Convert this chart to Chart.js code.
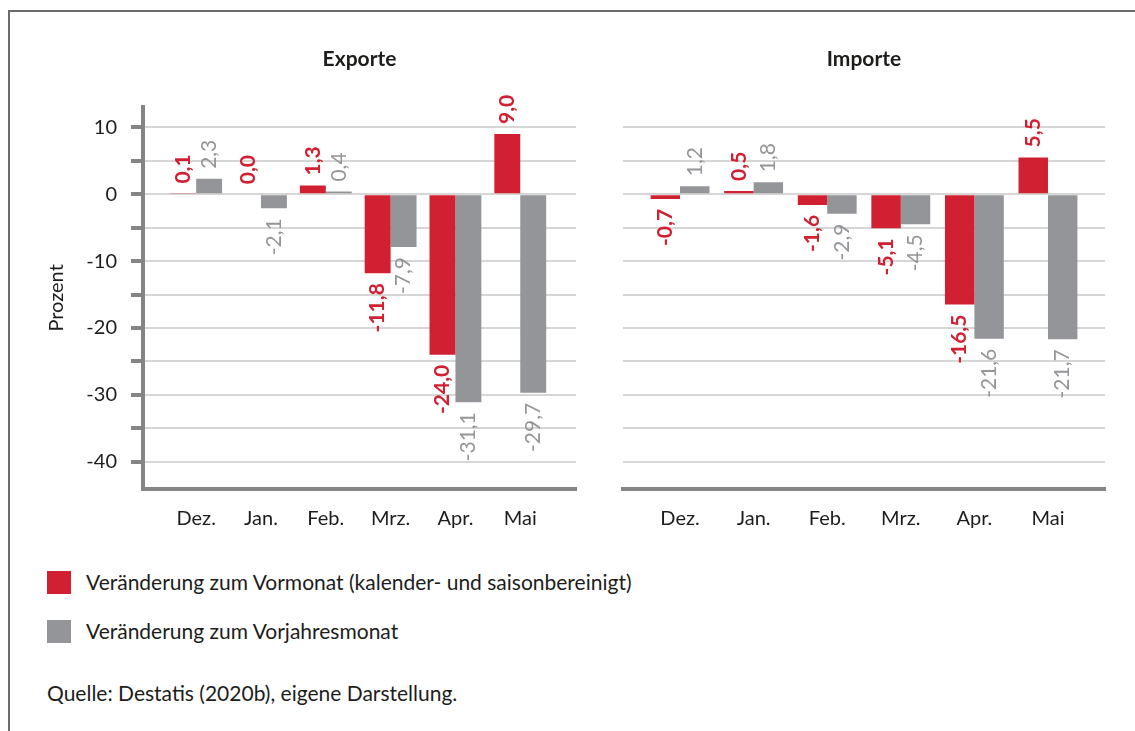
<!DOCTYPE html>
<html>
<head>
<meta charset="utf-8">
<script src="https://cdn.jsdelivr.net/npm/chart.js@4.4.1/dist/chart.umd.min.js"></script>
<style>
html,body{margin:0;padding:0;background:#fff;}
body{width:1135px;height:731px;position:relative;overflow:hidden;font-family:Lato,"Liberation Sans",sans-serif;color:#1d1d1b;}
#frame{position:absolute;left:8px;top:10px;width:1200px;height:800px;border-left:2px solid #6b6b6b;border-top:2px solid #6b6b6b;}
canvas{position:absolute;top:0;}
#c1{left:0;}
#c2{left:600px;}
.sw{position:absolute;left:47px;width:24px;height:23px;}
.txt{position:absolute;font-size:21px;line-height:24px;white-space:nowrap;}
</style>
</head>
<body>
<div id="frame"></div>
<canvas id="c1" width="600" height="540"></canvas>
<canvas id="c2" width="535" height="540"></canvas>
<div class="sw" id="sw1" style="top:571px;"></div>
<div class="txt" id="lg1" style="left:86px;top:570px;"></div>
<div class="sw" id="sw2" style="top:620px;"></div>
<div class="txt" id="lg2" style="left:86px;top:619px;"></div>
<div class="txt" id="src" style="left:47px;top:681px;"></div>
<script>
// ---- data ----
const categories = ['Dez.', 'Jan.', 'Feb.', 'Mrz.', 'Apr.', 'Mai'];
const exportVormonat = [0.1, 0.0, 1.3, -11.8, -24.0, 9.0];
const exportVorjahr  = [2.3, -2.1, 0.4, -7.9, -31.1, -29.7];
const importVormonat = [-0.7, 0.5, -1.6, -5.1, -16.5, 5.5];
const importVorjahr  = [1.2, 1.8, -2.9, -4.5, -21.6, -21.7];
const seriesNames = ['Veränderung zum Vormonat (kalender- und saisonbereinigt)', 'Veränderung zum Vorjahresmonat'];
const chartTitles = ['Exporte', 'Importe'];
const yAxisTitle = 'Prozent';
const sourceText = 'Quelle: Destatis (2020b), eigene Darstellung.';

// ---- styles ----
const RED = '#d12031';
const GRAY = '#939598';
const GRID = '#d6d6d6';
const AXIS = '#858585';
const TEXT = '#1d1d1b';
const FONT = 'Lato, "Liberation Sans", sans-serif';

document.getElementById('sw1').style.background = RED;
document.getElementById('sw2').style.background = GRAY;
document.getElementById('lg1').textContent = seriesNames[0];
document.getElementById('lg2').textContent = seriesNames[1];
document.getElementById('src').textContent = sourceText;

const fmt = v => v.toFixed(1).replace('.', ',');

const valueLabels = {
  id: 'valueLabels',
  afterDatasetsDraw(chart) {
    const ctx = chart.ctx;
    const GAP = 10;
    chart.data.datasets.forEach((ds, di) => {
      const meta = chart.getDatasetMeta(di);
      meta.data.forEach((bar, i) => {
        const v = ds.data[i].y;
        const p = bar.getProps(['x', 'y'], true);
        ctx.save();
        ctx.translate(p.x, v >= 0 ? p.y - GAP : p.y + GAP);
        ctx.rotate(-Math.PI / 2);
        ctx.font = (di === 0 ? 'bold ' : '') + '21px ' + FONT;
        ctx.fillStyle = ds.backgroundColor;
        ctx.textAlign = v >= 0 ? 'left' : 'right';
        ctx.textBaseline = 'middle';
        ctx.fillText(fmt(v), 0, 0);
        ctx.restore();
      });
    });
  }
};

function makeChart(id, title, s1, s2, opts) {
  const pts = arr => arr.map((v, i) => ({x: i, y: v}));
  return new Chart(document.getElementById(id), {
    type: 'bar',
    data: {
      datasets: [
        {label: seriesNames[0], data: pts(s1), backgroundColor: RED, categoryPercentage: 0.8, barPercentage: 1.0},
        {label: seriesNames[1], data: pts(s2), backgroundColor: GRAY, categoryPercentage: 0.8, barPercentage: 1.0}
      ]
    },
    options: {
      responsive: false,
      animation: false,
      events: [],
      layout: {padding: {left: opts.padLeft, right: opts.padRight, top: 0, bottom: 6.5}},
      plugins: {
        legend: {display: false},
        tooltip: {enabled: false},
        title: {
          display: true, text: title, fullSize: false, color: TEXT,
          font: {family: FONT, size: 21, weight: 'bold'},
          padding: {top: 46.4, bottom: 35.7}
        }
      },
      scales: {
        x: {
          type: 'linear',
          offset: false,
          min: opts.xMin, max: opts.xMax,
          afterFit: s => { s.height = 45; },
          grid: {display: false, drawTicks: false, offset: false},
          border: {display: true, color: AXIS, width: 4},
          ticks: {
            stepSize: 1, includeBounds: false, autoSkip: false, maxRotation: 0,
            padding: 18, color: TEXT, font: {family: FONT, size: 20},
            callback: v => (Number.isInteger(v) && categories[v] !== undefined) ? categories[v] : ''
          }
        },
        y: {
          min: -44, max: 13,
          afterFit: s => { s.width = opts.yWidth; },
          grid: {color: GRID, lineWidth: 2, drawTicks: opts.showAxis, tickLength: 12, tickWidth: 4, tickColor: AXIS},
          border: {display: opts.showAxis, color: AXIS, width: 4},
          title: {display: opts.showAxis, text: yAxisTitle, color: TEXT, font: {family: FONT, size: 20}, padding: 0},
          ticks: {
            display: opts.showAxis, stepSize: 5, includeBounds: false, padding: 14,
            color: TEXT, font: {family: FONT, size: 20},
            callback: v => (v % 10 === 0 ? String(v) : '')
          }
        }
      }
    },
    plugins: [valueLabels]
  });
}

makeChart('c1', chartTitles[0], exportVormonat, exportVorjahr,
  {padLeft: 45, padRight: 24, yWidth: 98, showAxis: true, xMin: -0.82, xMax: 5.86});
makeChart('c2', chartTitles[1], importVormonat, importVorjahr,
  {padLeft: 23, padRight: 30, yWidth: 0, showAxis: false, xMin: -0.775, xMax: 5.775});
</script>
</body>
</html>
